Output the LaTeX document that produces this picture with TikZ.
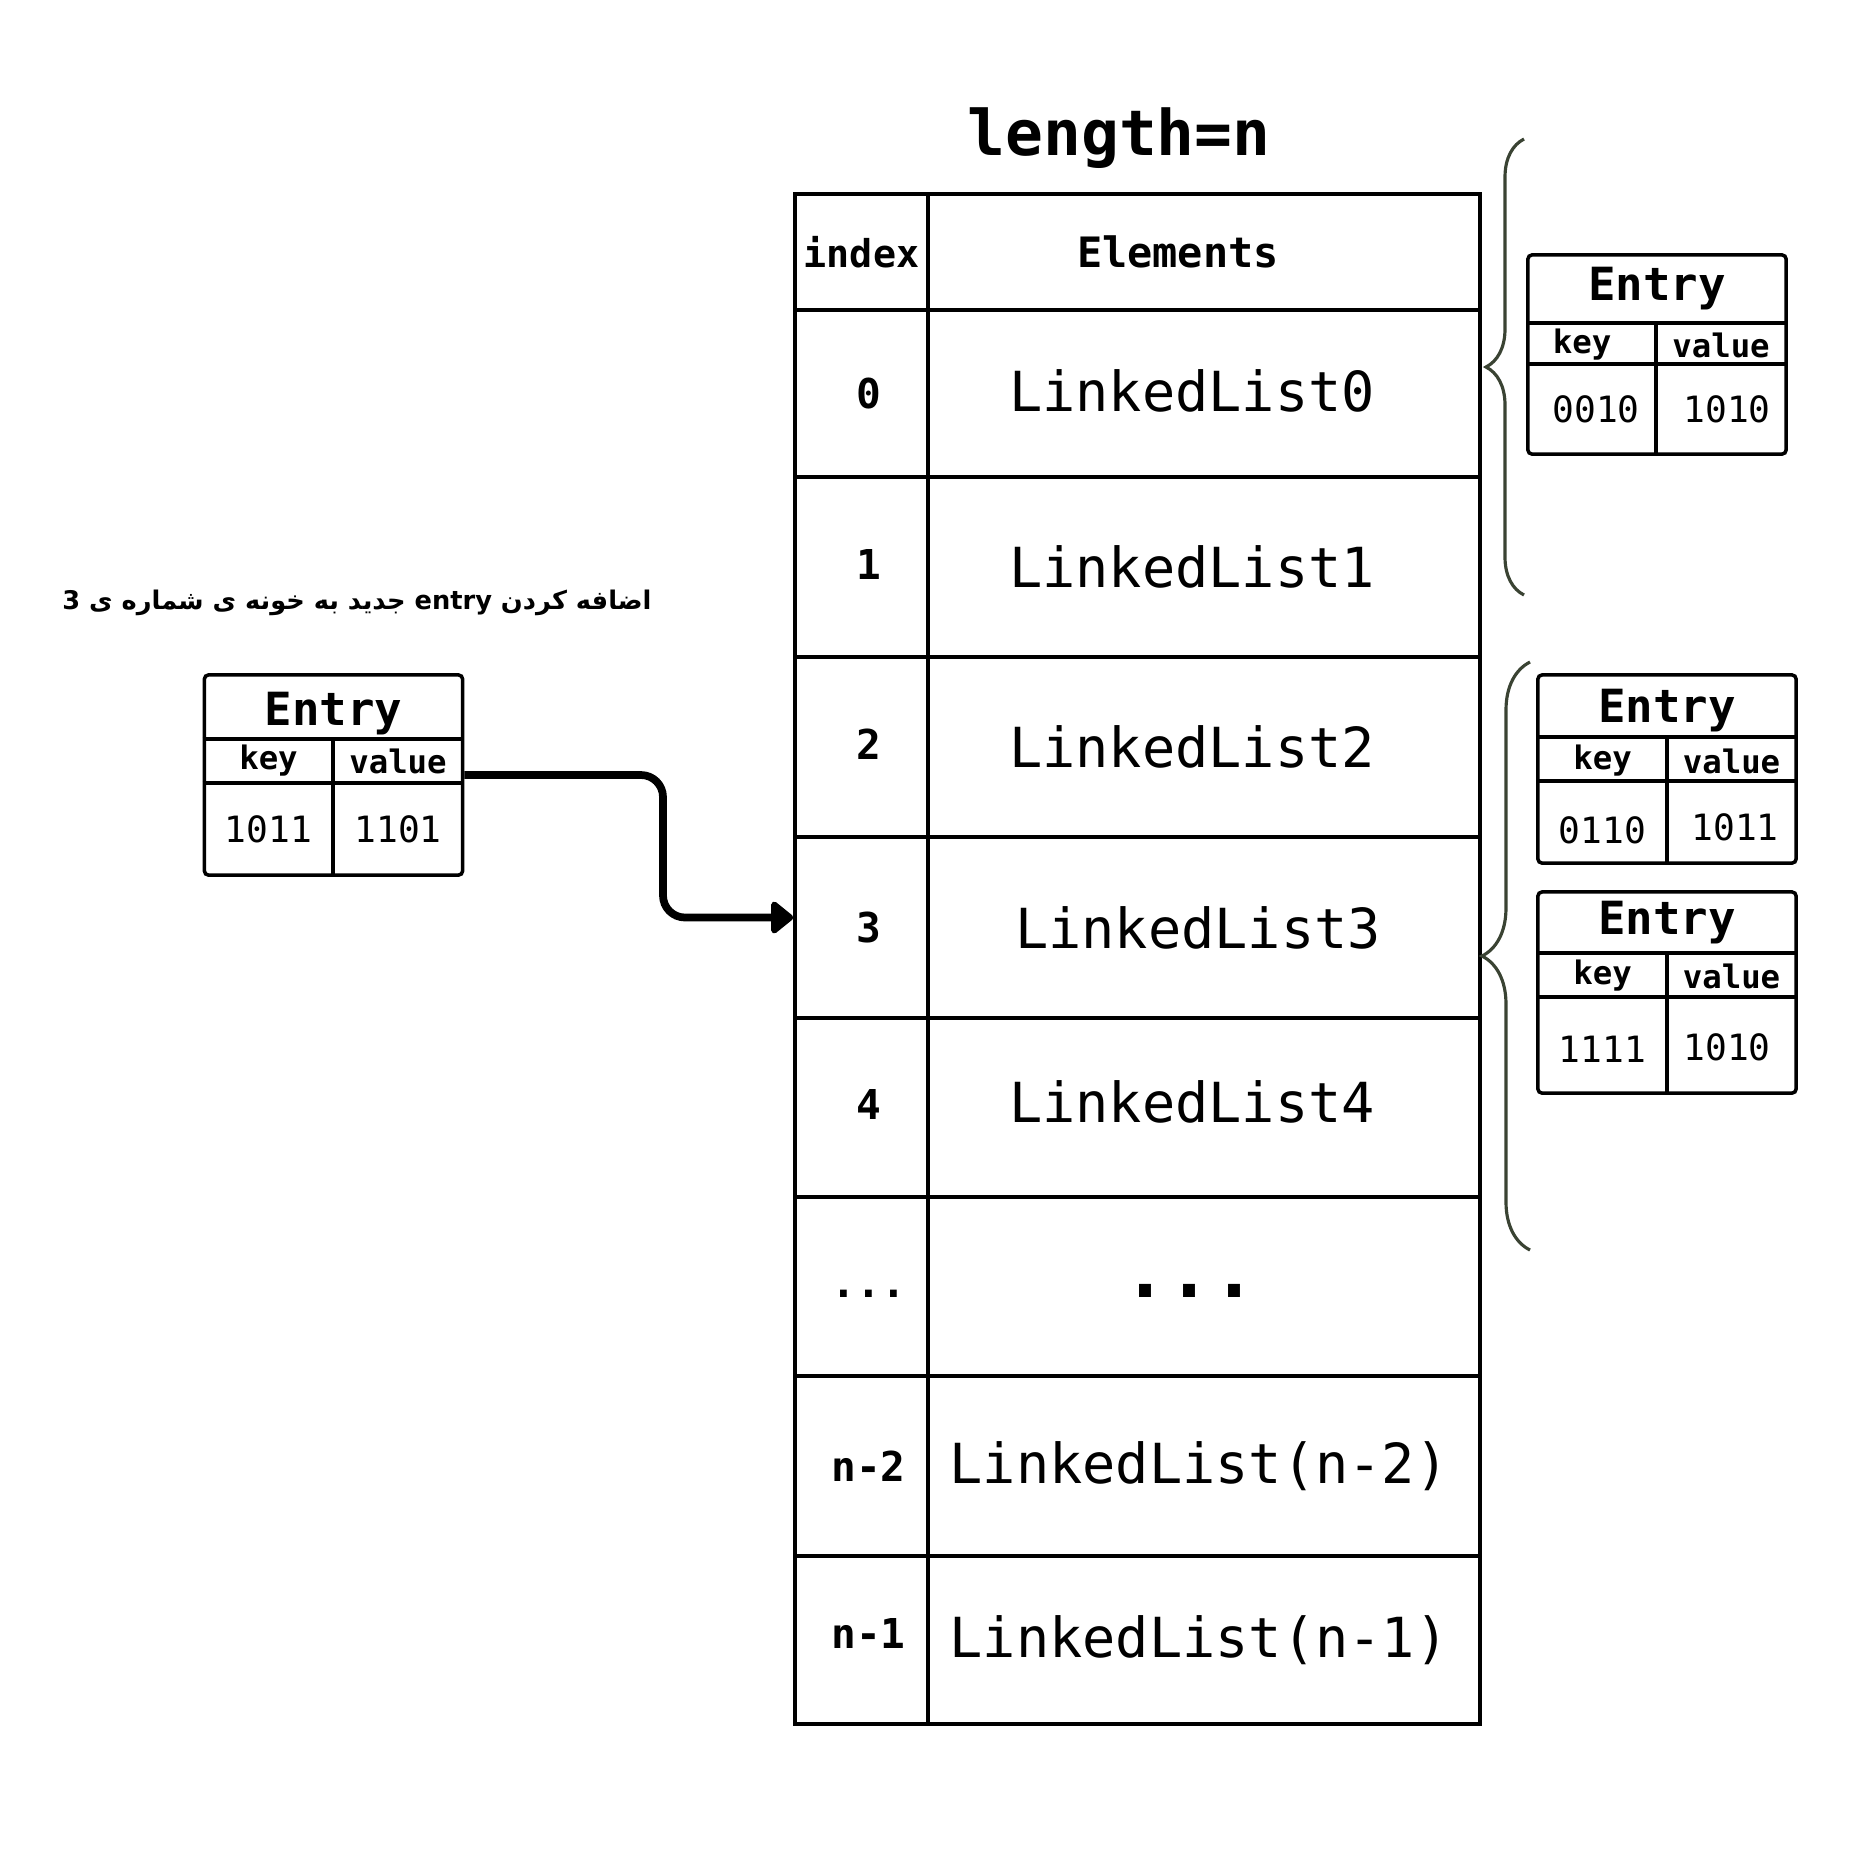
\documentclass[tikz,border=0pt]{standalone}
\usepackage{fontspec}
\setmonofont{DejaVu Sans Mono}
\newfontfamily\arabicfont[Script=Arabic]{DejaVu Sans}
\TeXXeTstate=1
\usetikzlibrary{arrows, arrows.meta}
\usetikzlibrary{calc}
\usetikzlibrary{decorations.pathreplacing}
\definecolor{bracegray}{HTML}{3A4333}

\begin{document}
\begin{tikzpicture}[x=0.01cm, y=-0.01cm,
    idxcell/.style={draw, line width=1pt, inner sep=0pt, minimum width=1.33cm, font=\ttfamily\bfseries\fontsize{11.7}{14}\selectfont},
    elemcell/.style={draw, line width=1pt, inner sep=0pt, minimum width=5.52cm, font=\ttfamily\fontsize{15.7}{19}\selectfont},
    entrybox/.style={draw, line width=1pt, rounded corners=0.4mm, inner sep=0pt, minimum width=2.58cm},
    entrytitle/.style={font=\ttfamily\bfseries\fontsize{13}{15}\selectfont, inner sep=0pt},
    entryhead/.style={font=\ttfamily\bfseries\fontsize{9.2}{11}\selectfont, inner sep=0pt},
    entrybits/.style={font=\ttfamily\fontsize{10.3}{12}\selectfont, inner sep=0pt},
    divider/.style={line width=1pt},
    flow/.style={line width=2.2pt, rounded corners=2.2mm, -{Triangle[length=6.8pt, width=10.5pt, round]}},
    grouping/.style={draw=bracegray, line width=0.9pt, decorate, decoration={brace, amplitude=0.4cm}}]
    \useasboundingbox (0,0) rectangle (1867,1859);

    \node[font=\ttfamily\bfseries\fontsize{17.9}{21}\selectfont, anchor=base] (len) at (1119,155) {length=n};

    \node[idxcell, minimum height=1.16cm, font=\ttfamily\bfseries\fontsize{10.9}{13}\selectfont] (h0) at (861.5,252) {index};
    \node[elemcell, minimum height=1.16cm, font=\ttfamily\bfseries\fontsize{11.9}{14}\selectfont] (h1) at (1204,252) {Elements\hspace*{5.2mm}};
    \node[idxcell, minimum height=1.67cm] (i0) at (861.5,393.5) {\hspace*{1.4mm}0};
    \node[elemcell, minimum height=1.67cm] (l0) at (1204,393.5) {\raisebox{0.6mm}{LinkedList0}\hspace*{2.4mm}};
    \node[idxcell, minimum height=1.80cm] (i1) at (861.5,567) {\hspace*{1.4mm}\raisebox{0.6mm}{1}};
    \node[elemcell, minimum height=1.80cm] (l1) at (1204,567) {LinkedList1\hspace*{2.4mm}};
    \node[idxcell, minimum height=1.80cm] (i2) at (861.5,747) {\hspace*{1.4mm}\raisebox{0.6mm}{2}};
    \node[elemcell, minimum height=1.80cm] (l2) at (1204,747) {LinkedList2\hspace*{2.4mm}};
    \node[idxcell, minimum height=1.81cm] (i3) at (861.5,927.5) {\hspace*{1.4mm}3};
    \node[elemcell, minimum height=1.81cm] (l3) at (1204,927.5) {LinkedList3\hspace*{1.2mm}};
    \node[idxcell, minimum height=1.79cm] (i4) at (861.5,1107.5) {\hspace*{1.4mm}\raisebox{0.7mm}{4}};
    \node[elemcell, minimum height=1.79cm] (l4) at (1204,1107.5) {\raisebox{1.2mm}{LinkedList4}\hspace*{2.4mm}};
    \node[idxcell, minimum height=1.79cm] (i5) at (861.5,1286.5) {};
    \node[elemcell, minimum height=1.79cm] (l5) at (1204,1286.5) {};
    \node[idxcell, minimum height=1.80cm] (i6) at (861.5,1466) {\hspace*{1.4mm}n-2};
    \node[elemcell, minimum height=1.80cm] (l6) at (1204,1466) {LinkedList(n-2)\hspace*{1mm}};
    \node[idxcell, minimum height=1.68cm] (i7) at (861.5,1640) {\hspace*{1.4mm}\raisebox{1.4mm}{n-1}};
    \node[elemcell, minimum height=1.68cm] (l7) at (1204,1640) {\raisebox{0.5mm}{LinkedList(n-1)}\hspace*{1mm}};
    \node[font=\ttfamily\bfseries\fontsize{11.7}{14}\selectfont, anchor=base, inner sep=0pt] (d0) at (869,1297) {...};
    \node[font=\ttfamily\bfseries\fontsize{20.8}{24}\selectfont, anchor=base, inner sep=0pt] (d1) at (1190,1297) {...};

    \node[font=\arabicfont\bfseries\fontsize{7.3}{9}\selectfont] (note) at (357,603) {\beginR اضافه کردن \beginL entry\endL{} جدید به خونه ی شماره ی 3\endR};

    \node[entrybox, minimum height=2.00cm] (e0) at (333.5,775) {};
    \draw[divider] (e0.west |- 0,739) -- (e0.east |- 0,739);
    \draw[divider] (e0.west |- 0,783) -- (e0.east |- 0,783);
    \draw[divider] (333,739) -- (e0.south -| 333,0);
    \node[entrytitle] (e0t) at (333.5,714) {Entry};
    \node[entryhead] (e0k) at (268.5,761) {key};
    \node[entryhead] (e0v) at (398,761) {value};
    \node[entrybits] (e0kk) at (268.5,829) {1011};
    \node[entrybits] (e0vv) at (398,829) {1101};

    \node[entrybox, minimum height=1.99cm] (e1) at (1657,354.5) {};
    \draw[divider] (e1.west |- 0,323) -- (e1.east |- 0,323);
    \draw[divider] (e1.west |- 0,364) -- (e1.east |- 0,364);
    \draw[divider] (1656,323) -- (e1.south -| 1656,0);
    \node[entrytitle] (e1t) at (1657,289) {Entry};
    \node[entryhead] (e1k) at (1582,345) {key};
    \node[entryhead] (e1v) at (1721,345) {value};
    \node[entrybits] (e1kk) at (1596,409) {0010};
    \node[entrybits] (e1vv) at (1727,409) {1010};

    \node[entrybox, minimum height=1.88cm] (e2) at (1667,769) {};
    \draw[divider] (e2.west |- 0,737) -- (e2.east |- 0,737);
    \draw[divider] (e2.west |- 0,781) -- (e2.east |- 0,781);
    \draw[divider] (1667,737) -- (e2.south -| 1667,0);
    \node[entrytitle] (e2t) at (1667,711) {Entry};
    \node[entryhead] (e2k) at (1602.5,761) {key};
    \node[entryhead] (e2v) at (1731.5,761) {value};
    \node[entrybits] (e2kk) at (1602.5,830) {0110};
    \node[entrybits] (e2vv) at (1735,827) {1011};

    \node[entrybox, minimum height=2.01cm] (e3) at (1667,992.5) {};
    \draw[divider] (e3.west |- 0,953) -- (e3.east |- 0,953);
    \draw[divider] (e3.west |- 0,997) -- (e3.east |- 0,997);
    \draw[divider] (1667,953) -- (e3.south -| 1667,0);
    \node[entrytitle] (e3t) at (1667,922.5) {Entry};
    \node[entryhead] (e3k) at (1602.5,976) {key};
    \node[entryhead] (e3v) at (1731.5,976) {value};
    \node[entrybits] (e3kk) at (1602.5,1049) {1111};
    \node[entrybits] (e3vv) at (1727,1047) {1010};

    \coordinate (turn) at (663,0);
    \coordinate (dock) at ([yshift=1mm]i3.west);
    \draw[flow] (e0.east) -| (turn |- dock) -- (dock);

    \coordinate (b0) at (1524,595);
    \coordinate (b1) at (1524,139);
    \coordinate (b2) at (1530,1250);
    \coordinate (b3) at (1530,662);
    \draw[grouping, decoration={amplitude=0.38cm}] (b0) -- (b1);
    \draw[grouping, decoration={amplitude=0.48cm}] (b2) -- (b3);
  \end{tikzpicture}
\end{document}
